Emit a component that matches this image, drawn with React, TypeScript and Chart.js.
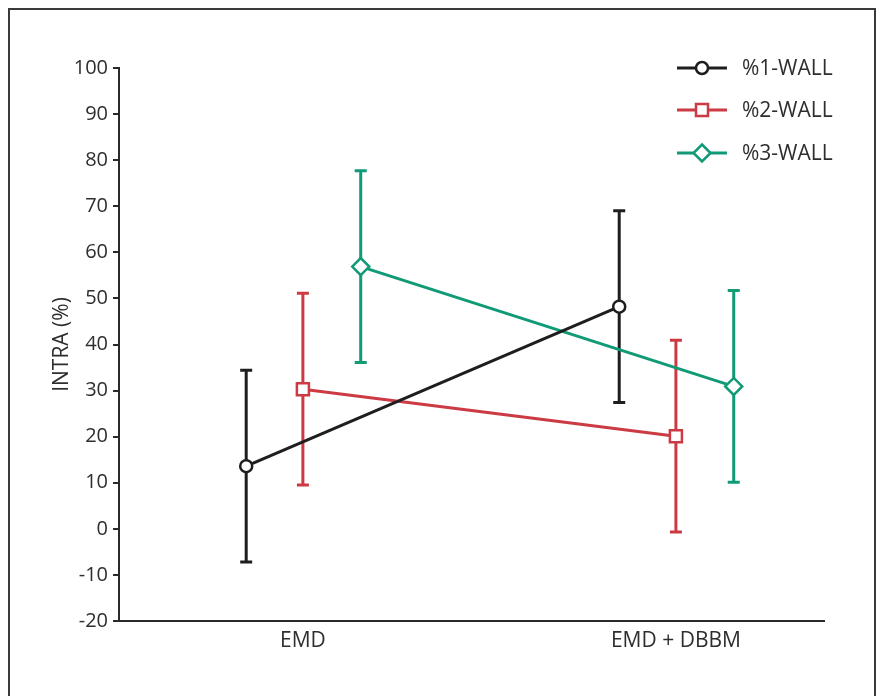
import React, { useEffect, useRef } from "react";
import { Chart, registerables } from "chart.js";

Chart.register(...registerables);

const categories = ["EMD", "EMD + DBBM"];
const seriesNames = ["%1-WALL", "%2-WALL", "%3-WALL"];
const wall1 = [13.6, 48.2];
const wall1Err = [20.8, 20.8];
const wall2 = [30.3, 20.1];
const wall2Err = [20.8, 20.8];
const wall3 = [56.9, 30.9];
const wall3Err = [20.8, 20.8];
const yTicks = [-20, -10, 0, 10, 20, 30, 40, 50, 60, 70, 80, 90, 100];

const FONT = "'Open Sans', Lato, sans-serif";
const FONT_SIZE = 20;
const LABEL_SIZE = 21;
const TEXT = "#2e2e2e";
const COLORS = ["#1e1e20", "#cc3a44", "#109a76"];
const STYLES = ["circle", "rect", "rectRot"];
const RADII = [6, 8.5, 8.5];
const OFFSETS = [-0.152, 0, 0.155];

const values = [wall1, wall2, wall3];
const errors = [wall1Err, wall2Err, wall3Err];

function drawMarker(ctx: CanvasRenderingContext2D, style: string, x: number, y: number, r: number, color: string) {
  ctx.save();
  ctx.fillStyle = "#ffffff";
  ctx.strokeStyle = color;
  ctx.lineWidth = 2.5;
  ctx.beginPath();
  if (style === "circle") {
    ctx.arc(x, y, r, 0, Math.PI * 2);
  } else if (style === "rect") {
    const h = r * Math.SQRT1_2;
    ctx.rect(x - h, y - h, 2 * h, 2 * h);
  } else {
    ctx.moveTo(x, y - r);
    ctx.lineTo(x + r, y);
    ctx.lineTo(x, y + r);
    ctx.lineTo(x - r, y);
    ctx.closePath();
  }
  ctx.fill();
  ctx.stroke();
  ctx.restore();
}

const errorBarPlugin = {
  id: "errorBars",
  beforeDatasetsDraw(chart: any) {
    const ctx = chart.ctx;
    const xs = chart.scales.x;
    const ys = chart.scales.y;
    chart.data.datasets.forEach((ds: any, i: number) => {
      const errs = errors[i];
      ds.data.forEach((p: any, j: number) => {
        const x = xs.getPixelForValue(p.x);
        const top = ys.getPixelForValue(p.y + errs[j]);
        const bot = ys.getPixelForValue(p.y - errs[j]);
        ctx.save();
        ctx.strokeStyle = COLORS[i];
        ctx.lineWidth = 3;
        ctx.beginPath();
        ctx.moveTo(x, top);
        ctx.lineTo(x, bot);
        ctx.moveTo(x - 6, top);
        ctx.lineTo(x + 6, top);
        ctx.moveTo(x - 6, bot);
        ctx.lineTo(x + 6, bot);
        ctx.stroke();
        ctx.restore();
      });
    });
  },
};

const framePlugin = {
  id: "frameLegend",
  afterDraw(chart: any) {
    const ctx = chart.ctx;
    ctx.save();
    ctx.strokeStyle = "#3a3a3a";
    ctx.lineWidth = 2;
    ctx.strokeRect(9, 9, 866, 700);
    const rowsY = [68, 110, 153];
    seriesNames.forEach((name, i) => {
      const y = rowsY[i];
      ctx.strokeStyle = COLORS[i];
      ctx.lineWidth = 3;
      ctx.beginPath();
      ctx.moveTo(677, y);
      ctx.lineTo(727, y);
      ctx.stroke();
      drawMarker(ctx, STYLES[i], 702, y, RADII[i], COLORS[i]);
      ctx.fillStyle = TEXT;
      ctx.font = `${LABEL_SIZE}px ${FONT}`;
      ctx.textAlign = "left";
      ctx.textBaseline = "middle";
      ctx.fillText(name, 742, y + 1);
    });
    ctx.restore();
  },
};

export default function App() {
  const ref = useRef<HTMLCanvasElement | null>(null);
  useEffect(() => {
    if (!ref.current) return;
    const datasets = seriesNames.map((name, i) => ({
      label: name,
      data: categories.map((_, j) => ({ x: j + 1 + OFFSETS[i], y: values[i][j] })),
      borderColor: COLORS[i],
      backgroundColor: "#ffffff",
      borderWidth: 3,
      pointStyle: STYLES[i],
      pointRadius: RADII[i],
      pointBorderWidth: 2.5,
      pointBackgroundColor: "#ffffff",
      pointBorderColor: COLORS[i],
      tension: 0,
      fill: false,
    }));
    const chart = new Chart(ref.current, {
      type: "line",
      data: { datasets },
      plugins: [errorBarPlugin, framePlugin],
      options: {
        animation: false,
        responsive: false,
        events: [],
        layout: { padding: { left: 0, top: 68, right: 54, bottom: 0 } },
        plugins: { legend: { display: false }, tooltip: { enabled: false } },
        scales: {
          x: {
            type: "linear",
            min: 0.507,
            max: 2.397,
            afterFit: (s: any) => { s.height = 75; },
            afterBuildTicks: (s: any) => { s.ticks = categories.map((_, j) => ({ value: j + 1 })); },
            grid: { display: false, drawTicks: false },
            border: { display: true, color: "#2a2a2a", width: 2 },
            ticks: {
              padding: 7,
              color: TEXT,
              font: { family: FONT, size: LABEL_SIZE },
              callback: (v: any) => categories[Math.round(Number(v)) - 1] ?? "",
            },
          },
          y: {
            min: -20,
            max: 100,
            afterFit: (s: any) => { s.width = 119; },
            afterBuildTicks: (s: any) => { s.ticks = yTicks.map((v) => ({ value: v })); },
            grid: { drawOnChartArea: false, drawTicks: true, tickLength: 6, color: "#2a2a2a", lineWidth: 2 },
            border: { display: true, color: "#2a2a2a", width: 2 },
            ticks: {
              padding: 5,
              color: TEXT,
              font: { family: FONT, size: FONT_SIZE },
            },
            title: {
              display: true,
              text: "INTRA (%)",
              color: TEXT,
              font: { family: FONT, size: LABEL_SIZE },
              padding: { top: 49, bottom: 0 },
            },
          },
        },
      },
    });
    return () => chart.destroy();
  }, []);
  return (
    <div style={{ position: "absolute", left: 0, top: 0, width: 878, height: 696, background: "#fff" }}>
      <canvas ref={ref} width={878} height={696} style={{ display: "block" }} />
    </div>
  );
}
